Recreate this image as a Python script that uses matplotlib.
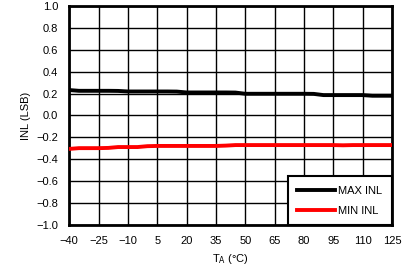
import matplotlib
matplotlib.use("Agg")
import matplotlib.pyplot as plt

# INL vs ambient temperature
temps = [-40, -35, -30, -25, -20, -15, -10, -5, 0, 5, 10, 15, 20, 25, 30, 35, 40,
         45, 50, 55, 60, 65, 70, 75, 80, 85, 90, 95, 100, 105, 110, 115, 120, 125]
max_inl = [0.232, 0.225, 0.225, 0.225, 0.225, 0.224, 0.219, 0.219, 0.219, 0.219,
           0.219, 0.218, 0.210, 0.210, 0.210, 0.210, 0.210, 0.209, 0.198, 0.198,
           0.198, 0.198, 0.198, 0.198, 0.198, 0.197, 0.186, 0.186, 0.186, 0.186,
           0.186, 0.180, 0.180, 0.180]
min_inl = [-0.305, -0.298, -0.298, -0.298, -0.296, -0.288, -0.288, -0.288, -0.280,
           -0.278, -0.278, -0.278, -0.278, -0.278, -0.278, -0.278, -0.275, -0.270,
           -0.270, -0.270, -0.270, -0.270, -0.270, -0.270, -0.270, -0.270, -0.270,
           -0.270, -0.272, -0.270, -0.270, -0.270, -0.270, -0.270]
xticks = [-40, -25, -10, 5, 20, 35, 50, 65, 80, 95, 110, 125]
yticks = [-1.0, -0.8, -0.6, -0.4, -0.2, 0.0, 0.2, 0.4, 0.6, 0.8, 1.0]

plt.rcParams['font.family'] = ['Liberation Sans', 'DejaVu Sans']
plt.rcParams['font.size'] = 8

fig = plt.figure(figsize=(4.07, 2.67), dpi=100)
ax = fig.add_axes([0.170, 0.157, 0.793, 0.821])

ax.plot(temps, max_inl, color='black', lw=2.8, label='MAX INL', zorder=3)
ax.plot(temps, min_inl, color='red', lw=2.8, label='MIN INL', zorder=3)

ax.set_xlim(-40, 125)
ax.set_ylim(-1.0, 1.0)
ax.set_xticks(xticks)
ax.set_yticks(yticks)
ax.set_yticklabels([f"{v:.1f}".replace('-', '\u2212') for v in yticks])
ax.tick_params(length=0)
ax.tick_params(axis='x', pad=8)
ax.tick_params(axis='y', pad=8)
ax.grid(True, color='black', lw=1.0)
for s in ax.spines.values():
    s.set_linewidth(2.0)

ax.set_xlabel(r'T$_\mathrm{A}$ (°C)', labelpad=4)
ax.set_ylabel('INL (LSB)', labelpad=4)

leg = ax.legend(loc='lower right', bbox_to_anchor=(1.0, 0.0), borderaxespad=0,
                fancybox=False, framealpha=1, edgecolor='black',
                handlelength=3.4, handletextpad=0.3, labelspacing=0.9,
                borderpad=0.85)
leg.get_frame().set_linewidth(1.5)

fig.savefig('out.png', dpi=100)
